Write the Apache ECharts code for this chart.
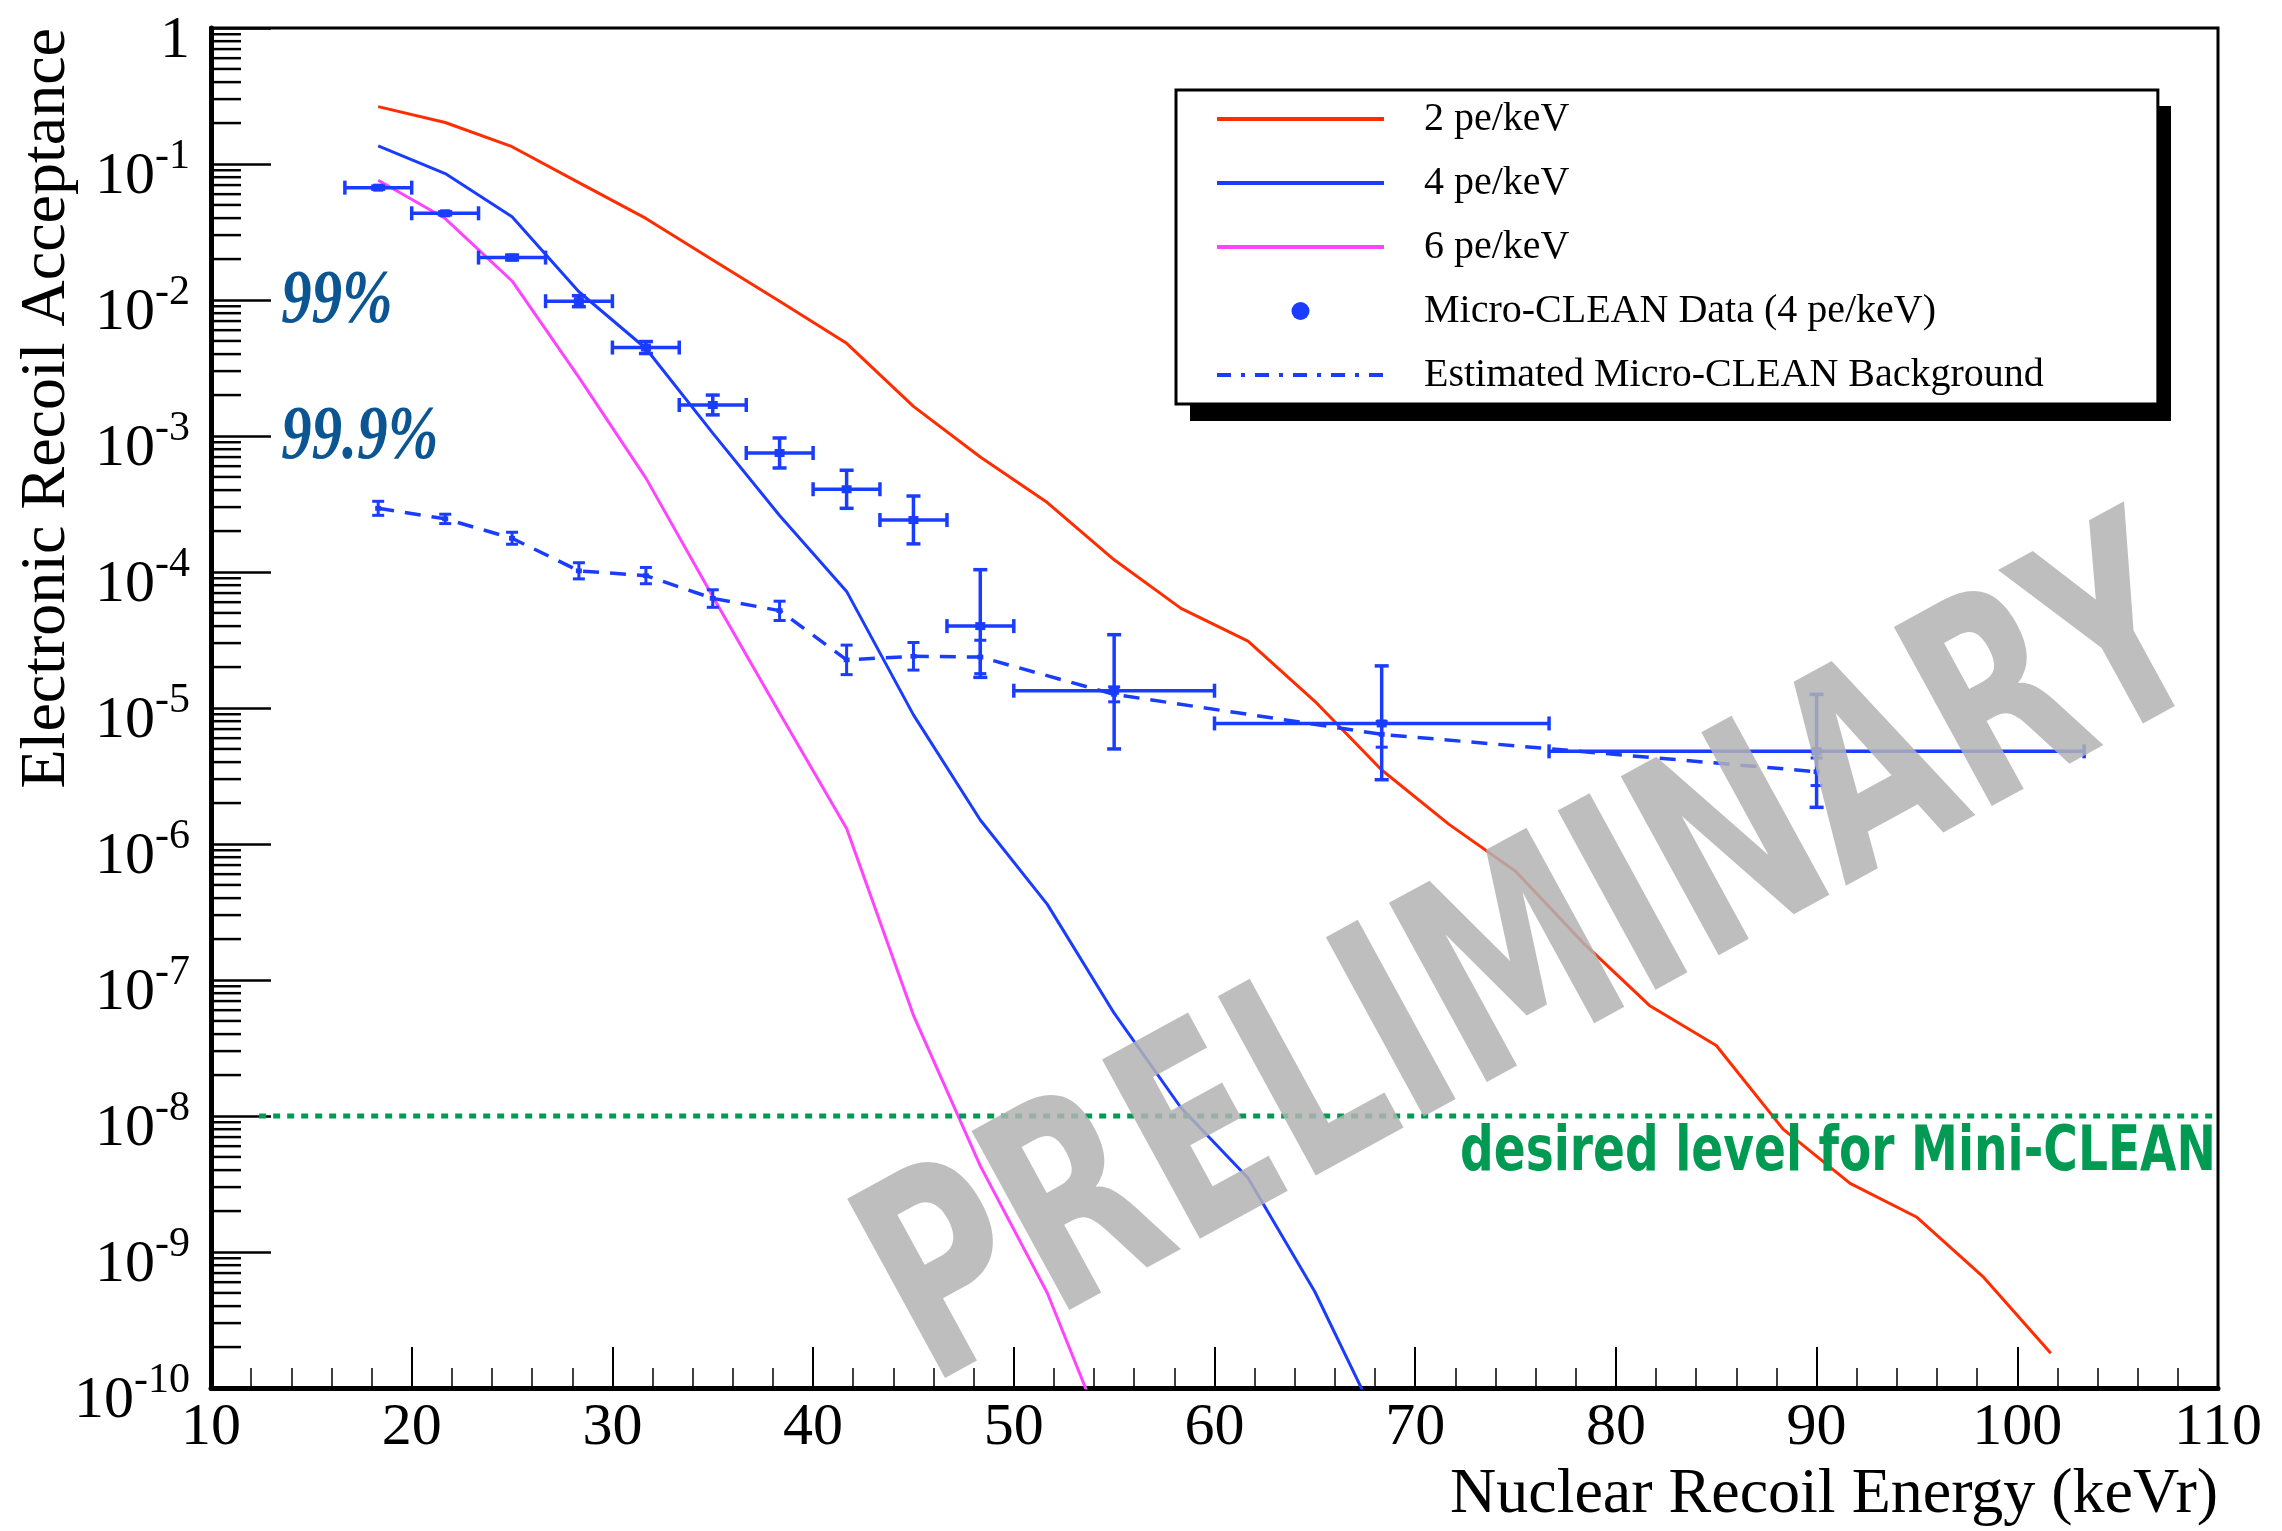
<!DOCTYPE html>
<html>
<head>
<meta charset="utf-8">
<title>Electronic Recoil Acceptance</title>
<script src="https://cdn.jsdelivr.net/npm/echarts@6/dist/echarts.min.js"></script>
<style>
html, body { margin: 0; padding: 0; background: #fff; }
#main { width: 2282px; height: 1531px; }
</style>
</head>
<body>
<div id="main"></div>
<script>
// 模拟曲线的能量点 (keVr)
var curveX = [18.33, 21.67, 25, 28.33, 31.67, 35, 38.33, 41.67, 45, 48.33, 51.67, 55, 58.33,
              61.67, 65, 68.33, 71.67, 75, 78.33, 81.67, 85, 88.33, 91.67, 95, 98.33, 101.67];
var accept2pe = [0.264, 0.202, 0.134, 0.073, 0.0398, 0.0197, 0.0098, 0.0048, 0.00165, 7.0e-4, 3.24e-4, 1.23e-4, 5.4e-5,
                 3.1e-5, 1.12e-5, 3.5e-6, 1.4e-6, 6.3e-7, 1.9e-7, 6.5e-8, 3.3e-8, 8.0e-9, 3.2e-9, 1.8e-9, 6.5e-10, 1.8e-10];
var accept4pe = [0.136, 0.085, 0.041, 0.0115, 0.0044, 0.00105, 2.6e-4, 7.2e-5, 8.9e-6, 1.5e-6, 3.6e-7, 5.7e-8, 1.15e-8,
                 3.5e-9, 5.1e-10, 4.9e-11];
var accept6pe = [0.076, 0.0397, 0.0138, 0.0027, 4.9e-4, 6.6e-5, 9.2e-6, 1.3e-6, 5.5e-8, 4.3e-9, 5.0e-10, 3.0e-11];

// Micro-CLEAN 数据 (4 pe/keV)
var dataX     = [18.33, 21.67, 25, 28.33, 31.67, 35, 38.33, 41.67, 45, 48.33, 55, 68.33, 90];
var dataXLow  = [16.67, 20, 23.33, 26.67, 30, 33.33, 36.67, 40, 43.33, 46.67, 50, 60, 76.67];
var dataXHigh = [20, 23.33, 26.67, 30, 33.33, 36.67, 40, 43.33, 46.67, 50, 60, 76.67, 103.33];
var dataY     = [0.067, 0.0434, 0.0205, 0.0098, 0.00447, 0.00169, 7.5e-4, 4.06e-4, 2.41e-4, 4.0e-5, 1.34e-5, 7.7e-6, 4.8e-6];
var dataYLow  = [0.0653, 0.0423, 0.0197, 0.00893, 0.00404, 0.00143, 5.82e-4, 2.94e-4, 1.61e-4, 1.68e-5, 5.0e-6, 2.97e-6, 1.86e-6];
var dataYHigh = [0.0687, 0.0445, 0.0214, 0.01076, 0.00495, 0.0020, 9.67e-4, 5.6e-4, 3.62e-4, 1.04e-4, 3.46e-5, 2.04e-5, 1.26e-5];

// 估计的本底
var bkgX     = [18.33, 21.67, 25, 28.33, 31.67, 35, 38.33, 41.67, 45, 48.33, 55, 68.33, 90];
var bkgY     = [2.94e-4, 2.46e-4, 1.77e-4, 1.02e-4, 9.4e-5, 6.4e-5, 5.2e-5, 2.26e-5, 2.4e-5, 2.37e-5, 1.26e-5, 6.4e-6, 3.4e-6];
var bkgYLow  = [2.61e-4, 2.27e-4, 1.60e-4, 8.9e-5, 8.2e-5, 5.5e-5, 4.4e-5, 1.76e-5, 1.9e-5, 1.79e-5, 1.11e-5, 5.15e-6, 2.69e-6];
var bkgYHigh = [3.31e-4, 2.66e-4, 1.96e-4, 1.17e-4, 1.08e-4, 7.4e-5, 6.1e-5, 2.9e-5, 3.03e-5, 3.15e-5, 1.43e-5, 7.95e-6, 4.29e-6];

// y 轴刻度 (每个数量级)
var yTickValues = [1, 1e-1, 1e-2, 1e-3, 1e-4, 1e-5, 1e-6, 1e-7, 1e-8, 1e-9, 1e-10];

// Mini-CLEAN 目标线
var desiredLevel = 1e-8;
var desiredRange = [12.4, 110];

// 注释文字
var noteTexts = ['99%', '99.9%'];
var noteLevels = [1e-2, 1e-3];
var noteX = 13.5;

var BLUE = '#1a3cff';
var RED = '#ff2d00';
var MAGENTA = '#ff44ff';
var GREEN = '#009a52';
var NOTE_BLUE = '#0b5692';
var SERIF = 'Liberation Serif';

function zip(xs, ys) {
    var out = [];
    for (var i = 0; i < ys.length; i++) {
        out.push([xs[i], ys[i]]);
    }
    return out;
}

var dataRows = [];
for (var i = 0; i < dataX.length; i++) {
    dataRows.push([dataX[i], dataY[i], dataXLow[i], dataXHigh[i], dataYLow[i], dataYHigh[i]]);
}
var bkgRows = [];
for (var i = 0; i < bkgX.length; i++) {
    bkgRows.push([bkgX[i], bkgY[i], bkgX[i], bkgX[i], bkgYLow[i], bkgYHigh[i]]);
}

// 对数轴的小刻度 (2..9 x 10^k)
var yMinorTicks = [];
for (var e = -10; e < 0; e++) {
    for (var m = 2; m <= 9; m++) {
        yMinorTicks.push([10, m * Math.pow(10, e)]);
    }
}

// 误差棒
function makeErrorBar(cap, width, box) {
    return function (params, api) {
        var x = api.value(0), y = api.value(1);
        var mid = api.coord([x, y]);
        var left = api.coord([api.value(2), y])[0];
        var right = api.coord([api.value(3), y])[0];
        var low = api.coord([x, api.value(4)])[1];
        var high = api.coord([x, api.value(5)])[1];
        var color = api.visual('color');
        var st = { stroke: color, lineWidth: width };
        var kids = [
            { type: 'line', shape: { x1: mid[0], y1: high, x2: mid[0], y2: low }, style: st },
            { type: 'line', shape: { x1: mid[0] - cap, y1: high, x2: mid[0] + cap, y2: high }, style: st },
            { type: 'line', shape: { x1: mid[0] - cap, y1: low, x2: mid[0] + cap, y2: low }, style: st }
        ];
        if (right - left > 1) {
            kids.push({ type: 'line', shape: { x1: left, y1: mid[1], x2: right, y2: mid[1] }, style: st });
            kids.push({ type: 'line', shape: { x1: left, y1: mid[1] - cap, x2: left, y2: mid[1] + cap }, style: st });
            kids.push({ type: 'line', shape: { x1: right, y1: mid[1] - cap, x2: right, y2: mid[1] + cap }, style: st });
        }
        kids.push({ type: 'rect', shape: { x: mid[0] - box, y: mid[1] - box * 0.8, width: box * 2, height: box * 1.6 }, style: { fill: color } });
        return { type: 'group', children: kids };
    };
}

function renderMinorTick(params, api) {
    var p = api.coord([api.value(0), api.value(1)]);
    return {
        type: 'line',
        shape: { x1: p[0], y1: p[1], x2: p[0] + 30, y2: p[1] },
        style: { stroke: '#000', lineWidth: 2.5 }
    };
}

function yLabel(v) {
    var ex = Math.round(Math.log(v) / Math.LN10);
    if (ex === 0) {
        return '{b|1}';
    }
    return '{b|10}{s|' + ex + '}';
}

var hideSymbol = { opacity: 0, borderWidth: 0 };

var option = {
    animation: false,
    backgroundColor: '#fff',
    grid: {
        left: 211, right: 64, top: 28, bottom: 143,
        show: true, borderColor: '#000', borderWidth: 3, backgroundColor: '#fff',
        outerBoundsMode: 'none'
    },
    legend: {
        left: 1176, top: 90,
        orient: 'vertical',
        selectedMode: false,
        padding: [9, 114, 9, 39],
        itemGap: 24,
        itemWidth: 167,
        itemHeight: 18,
        backgroundColor: '#fff',
        borderColor: '#000',
        borderWidth: 3,
        lineStyle: { width: 4 },
        textStyle: { fontFamily: SERIF, fontSize: 40, color: '#000', padding: [0, 0, 0, 35] },
        data: [
            { name: '2 pe/keV', itemStyle: hideSymbol },
            { name: '4 pe/keV', itemStyle: hideSymbol },
            { name: '6 pe/keV', itemStyle: hideSymbol },
            { name: 'Micro-CLEAN Data (4 pe/keV)', icon: 'circle' },
            { name: 'Estimated Micro-CLEAN Background', itemStyle: hideSymbol, lineStyle: { width: 4, type: [14, 10, 4, 10] } }
        ]
    },
    xAxis: {
        type: 'value', min: 10, max: 110, interval: 10,
        name: 'Nuclear Recoil Energy (keVr)',
        nameLocation: 'end', nameGap: 0, nameMoveOverlap: false,
        nameTextStyle: {
            fontFamily: SERIF, fontSize: 64, color: '#000',
            align: 'right', verticalAlign: 'top', padding: [75, 0, 0, 0]
        },
        axisLine: { onZero: false, lineStyle: { color: '#000', width: 5 } },
        axisTick: { inside: true, length: 41, lineStyle: { color: '#000', width: 2 } },
        minorTick: { show: true, splitNumber: 5, length: 20, lineStyle: { color: '#000', width: 1.5 } },
        axisLabel: { fontFamily: SERIF, fontSize: 60, color: '#000', margin: 10 },
        splitLine: { show: false }
    },
    yAxis: {
        type: 'log', logBase: 10, min: 1e-10, max: 1, splitNumber: 10,
        name: 'Electronic Recoil Acceptance',
        nameLocation: 'end', nameGap: 0, nameRotate: 90, nameMoveOverlap: false,
        nameTextStyle: {
            fontFamily: SERIF, fontSize: 64, color: '#000',
            align: 'right', verticalAlign: 'bottom', padding: [0, 0, 132, 0]
        },
        axisLine: { onZero: false, lineStyle: { color: '#000', width: 5 } },
        axisTick: { inside: true, length: 60, customValues: yTickValues, lineStyle: { color: '#000', width: 2.5 } },
        axisLabel: {
            margin: 21,
            padding: [27, 0, 0, 0],
            customValues: yTickValues,
            formatter: yLabel,
            rich: {
                b: { fontFamily: SERIF, fontSize: 60, lineHeight: 84, color: '#000' },
                s: { fontFamily: SERIF, fontSize: 42, lineHeight: 42, color: '#000', verticalAlign: 'top' }
            }
        },
        splitLine: { show: false }
    },
    series: [
        {
            name: '2 pe/keV', type: 'line', symbol: 'none', z: 3,
            lineStyle: { color: RED, width: 3 }, itemStyle: { color: RED },
            data: zip(curveX, accept2pe)
        },
        {
            name: '4 pe/keV', type: 'line', symbol: 'none', z: 3,
            lineStyle: { color: BLUE, width: 3 }, itemStyle: { color: BLUE },
            data: zip(curveX, accept4pe)
        },
        {
            name: '6 pe/keV', type: 'line', symbol: 'none', z: 3,
            lineStyle: { color: MAGENTA, width: 3 }, itemStyle: { color: MAGENTA },
            data: zip(curveX, accept6pe)
        },
        {
            name: 'Micro-CLEAN Data (4 pe/keV)', type: 'custom', z: 4,
            itemStyle: { color: BLUE },
            renderItem: makeErrorBar(7, 3.5, 5),
            encode: { x: 0, y: 1 },
            data: dataRows
        },
        {
            name: 'Estimated Micro-CLEAN Background', type: 'line', symbol: 'none', z: 4,
            lineStyle: { color: BLUE, width: 3.5, type: [16, 11] }, itemStyle: { color: BLUE },
            data: zip(bkgX, bkgY)
        },
        {
            name: 'bkgErrors', type: 'custom', z: 4, silent: true,
            itemStyle: { color: BLUE },
            renderItem: makeErrorBar(6, 3, 3),
            encode: { x: 0, y: 1 },
            data: bkgRows
        },
        {
            name: 'desired', type: 'line', symbol: 'none', z: 3, silent: true,
            lineStyle: { color: GREEN, width: 5, type: [7, 7] },
            data: [[desiredRange[0], desiredLevel], [desiredRange[1], desiredLevel]]
        },
        {
            name: 'yMinor', type: 'custom', z: 5, silent: true,
            renderItem: renderMinorTick,
            encode: { x: 0, y: 1 },
            data: yMinorTicks
        }
    ]
};

var chart = echarts.init(document.getElementById('main'));
chart.setOption(option);

// 图例阴影、注释与水印
var graphics = [{
    type: 'rect', z: 3, silent: true,
    shape: { x: 1190, y: 106, width: 981, height: 315 },
    style: { fill: '#000' }
}];
for (var k = 0; k < noteTexts.length; k++) {
    var p = chart.convertToPixel({ gridIndex: 0 }, [noteX, noteLevels[k]]);
    graphics.push({
        type: 'text', x: p[0], y: p[1] + 2, scaleX: 0.8, z: 10,
        style: {
            text: noteTexts[k], fill: NOTE_BLUE,
            fontFamily: SERIF, fontSize: 76, fontWeight: 'bold', fontStyle: 'italic',
            align: 'left', verticalAlign: 'middle', textAlign: 'left', textVerticalAlign: 'middle'
        }
    });
}
var pd = chart.convertToPixel({ gridIndex: 0 }, [desiredRange[1], desiredLevel]);
graphics.push({
    type: 'text', x: pd[0] - 2, y: pd[1] + 38, scaleX: 0.76, z: 10,
    style: {
        text: 'desired level for Mini-CLEAN', fill: GREEN,
        fontFamily: 'DejaVu Sans', fontSize: 62, fontWeight: 'bold',
        align: 'right', verticalAlign: 'middle', textAlign: 'right', textVerticalAlign: 'middle'
    }
});
graphics.push({
    type: 'text', x: 1540, y: 970, rotation: 0.5, scaleX: 0.69, z: 20, silent: true,
    style: {
        text: 'PRELIMINARY', fill: '#b3b3b3', opacity: 0.85,
        fontFamily: 'DejaVu Sans', fontSize: 280, fontWeight: 'bold',
        align: 'center', verticalAlign: 'middle', textAlign: 'center', textVerticalAlign: 'middle'
    }
});
chart.setOption({ graphic: graphics });
</script>
</body>
</html>
